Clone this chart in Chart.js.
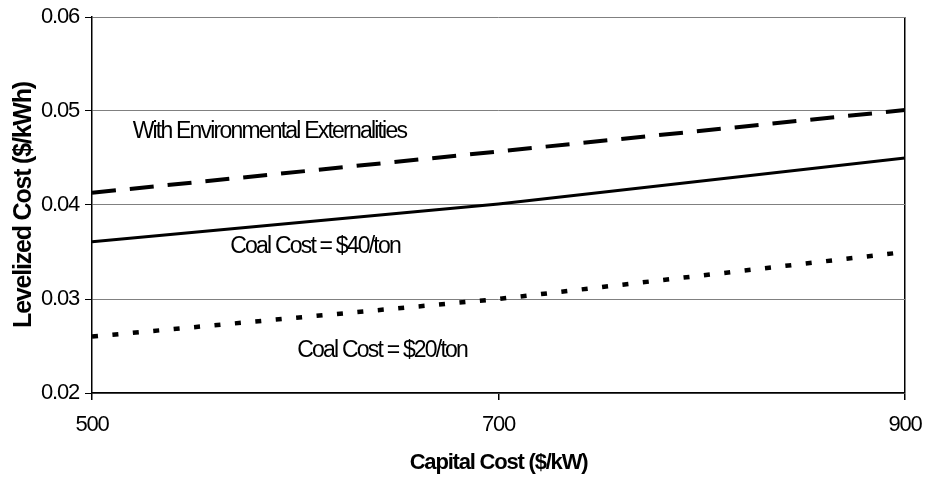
<!DOCTYPE html>
<html>
<head>
<meta charset="utf-8">
<script src="https://cdn.jsdelivr.net/npm/chart.js@4/dist/chart.umd.min.js"></script>
<style>
  html, body { margin: 0; padding: 0; background: #fff; }
  #wrap { width: 926px; height: 478px; }
</style>
</head>
<body>
<div id="wrap"><canvas id="c" width="926" height="478"></canvas></div>
<script>
// Capital cost on the x axis ($/kW)
const capitalCost = [500, 700, 900];
// Levelized cost ($/kWh) for each scenario
const withExternalities = [0.0413, 0.0457, 0.0501];
const coal40 = [0.0361, 0.0401, 0.0450];
const coal20 = [0.0260, 0.0300, 0.0350];
// Axis ticks
const xTicks = [500, 700, 900];
const yTicks = [0.02, 0.03, 0.04, 0.05, 0.06];
// Line labels written next to each curve
const curveLabels = ['With Environmental Externalities', 'Coal Cost = $40/ton', 'Coal Cost = $20/ton'];

const FONT = '"Liberation Sans", Arial, sans-serif';

const toPoints = ys => capitalCost.map((x, i) => ({ x, y: ys[i] }));

// Narrow, tight type for all axis text
const tightText = {
  id: 'tightText',
  beforeLayout(chart) { chart.ctx.letterSpacing = '-1.2px'; },
  beforeDraw(chart) { chart.ctx.letterSpacing = '-1.2px'; }
};

// Draws the in-plot text labels, anchored in data coordinates
const curveLabelPlugin = {
  id: 'curveLabels',
  afterDatasetsDraw(chart, args, opts) {
    const { ctx, scales: { x, y } } = chart;
    ctx.save();
    ctx.font = `23px ${FONT}`;
    ctx.letterSpacing = '-1.8px';
    ctx.fillStyle = '#000';
    ctx.textAlign = 'left';
    ctx.textBaseline = 'middle';
    opts.anchors.forEach((a, i) => {
      ctx.fillText(curveLabels[i], x.getPixelForValue(a.x), y.getPixelForValue(a.y));
    });
    ctx.restore();
  }
};

new Chart(document.getElementById('c'), {
  type: 'line',
  data: {
    datasets: [
      {
        label: curveLabels[0],
        data: toPoints(withExternalities),
        borderColor: '#000',
        borderWidth: 4,
        borderDash: [24, 14],
        borderCapStyle: 'butt',
        pointRadius: 0,
        tension: 0
      },
      {
        label: curveLabels[1],
        data: toPoints(coal40),
        borderColor: '#000',
        borderWidth: 3,
        pointRadius: 0,
        tension: 0
      },
      {
        label: curveLabels[2],
        data: toPoints(coal20),
        borderColor: '#000',
        borderWidth: 4.5,
        borderDash: [6, 14.5],
        borderCapStyle: 'butt',
        pointRadius: 0,
        tension: 0
      }
    ]
  },
  options: {
    responsive: false,
    devicePixelRatio: 1,
    animation: false,
    layout: { padding: { top: 17, right: 21, left: 0, bottom: 0 } },
    plugins: {
      legend: { display: false },
      tooltip: { enabled: false },
      curveLabels: {
        anchors: [
          { x: 520, y: 0.0478 },
          { x: 568, y: 0.0356 },
          { x: 601, y: 0.0245 }
        ]
      }
    },
    scales: {
      x: {
        type: 'linear',
        min: 500,
        max: 900,
        afterBuildTicks: s => { s.ticks = xTicks.map(v => ({ value: v })); },
        afterFit: s => { s.height = 85; s.paddingLeft = 0; s.paddingRight = 0; },
        grid: {
          color: c => (c.tick && c.tick.value === 900 ? '#000' : 'rgba(0,0,0,0)'),
          tickColor: '#000',
          tickLength: 7,
          lineWidth: 1.5
        },
        border: { color: '#000', width: 1.5 },
        ticks: {
          color: '#000',
          font: { family: FONT, size: 22 },
          padding: 12,
          maxRotation: 0,
          callback: v => String(v)
        },
        title: {
          display: true,
          text: 'Capital Cost ($/kW)',
          color: '#000',
          font: { family: FONT, size: 22, weight: 'bold' },
          padding: { top: 0, bottom: 2 }
        }
      },
      y: {
        type: 'linear',
        min: 0.02,
        max: 0.06,
        afterBuildTicks: s => { s.ticks = yTicks.map(v => ({ value: v })); },
        afterFit: s => { s.width = 92; s.paddingTop = 0; s.paddingBottom = 0; },
        grid: {
          color: '#808080',
          tickColor: '#000',
          tickLength: 7,
          lineWidth: 1
        },
        border: { color: '#000', width: 1.5 },
        ticks: {
          color: '#000',
          font: { family: FONT, size: 22 },
          padding: 6,
          callback: v => Number(v).toFixed(2)
        },
        title: {
          display: true,
          text: 'Levelized Cost ($/kWh)',
          color: '#000',
          font: { family: FONT, size: 25, weight: 'bold' },
          padding: { top: 9, bottom: 0 }
        }
      }
    }
  },
  plugins: [tightText, curveLabelPlugin]
});
</script>
</body>
</html>
